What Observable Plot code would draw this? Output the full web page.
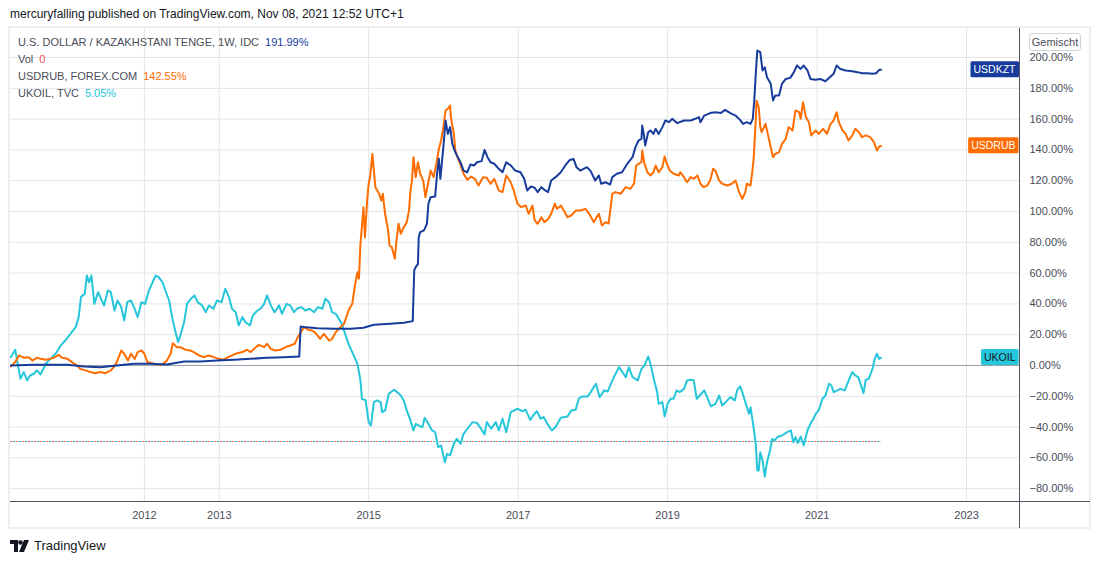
<!DOCTYPE html>
<html><head><meta charset="utf-8">
<script src="https://cdn.jsdelivr.net/npm/d3@7"></script>
<script src="https://cdn.jsdelivr.net/npm/@observablehq/plot@0.6"></script>
<style>
body{margin:0;background:#fff;font-family:"Liberation Sans",Arial,sans-serif;}
#wrap{position:relative;width:1100px;height:564px;overflow:hidden;background:#fff;}
#header{position:absolute;left:10px;top:7px;font-size:12px;color:#131722;white-space:nowrap;}
#chart{position:absolute;left:0;top:27px;}
#frame{position:absolute;left:8px;top:26px;width:1083px;height:503px;box-sizing:border-box;border:2px solid #eceef2;pointer-events:none;}
#vline{position:absolute;left:1019px;top:28px;width:1px;height:500px;background:#50535e;}
#hline{position:absolute;left:10px;top:501px;width:1080px;height:1px;background:#50535e;}
#legend{position:absolute;left:18px;top:34px;font-size:11px;line-height:17px;color:#4a4d57;white-space:nowrap;}
#legend span.v{margin-left:6px;}
#btn{position:absolute;left:1029px;top:33px;width:50px;height:16px;border:1px solid #d1d4dc;border-radius:3px;font-size:11px;line-height:16px;text-align:center;color:#4a4d57;background:#fff;}
#footer{position:absolute;left:10px;top:538px;font-size:13px;color:#131722;display:flex;align-items:center;}
#footer svg{margin-right:4px;}
</style></head>
<body>
<div id="wrap">
  <div id="header">mercuryfalling published on TradingView.com, Nov 08, 2021 12:52 UTC+1</div>
  <div id="chart"></div>
  <div id="frame"></div>
  <div id="vline"></div>
  <div id="hline"></div>
  <div id="legend"></div>
  <div id="btn">Gemischt</div>
  <div id="footer"><svg width="20" height="12" viewBox="0 0 20 12"><path d="M0 0h8v12h-4v-8h-4z" fill="#131722"/><circle cx="10.5" cy="2.5" r="2.3" fill="#131722"/><path d="M14 0h5l-5 12h-5z" fill="#131722"/></svg>TradingView</div>
</div>
<script>
// ---------- DATA (decimal years, percent change) ----------
const kztYears = [2010.21,2010.52,2010.97,2011.19,2011.41,2011.63,2011.86,2012.08,2012.30,2012.53,2012.75,2012.97,2013.20,2013.42,2013.64,2013.86,2014.07,2014.09,2014.13,2014.31,2014.53,2014.76,2014.93,2015.07,2015.29,2015.47,2015.59,2015.61,2015.63,2015.66,2015.67,2015.69,2015.74,2015.78,2015.80,2015.83,2015.89,2015.92,2015.94,2015.96,2016.00,2016.03,2016.06,2016.09,2016.12,2016.15,2016.18,2016.23,2016.27,2016.32,2016.36,2016.41,2016.45,2016.51,2016.55,2016.59,2016.63,2016.68,2016.74,2016.79,2016.84,2016.90,2016.96,2017.03,2017.08,2017.12,2017.17,2017.22,2017.26,2017.31,2017.35,2017.40,2017.44,2017.50,2017.57,2017.63,2017.69,2017.74,2017.78,2017.83,2017.92,2017.97,2018.03,2018.08,2018.11,2018.17,2018.23,2018.26,2018.32,2018.39,2018.46,2018.53,2018.57,2018.61,2018.65,2018.66,2018.68,2018.70,2018.74,2018.77,2018.81,2018.84,2018.88,2018.93,2018.97,2019.02,2019.06,2019.13,2019.22,2019.31,2019.37,2019.42,2019.44,2019.49,2019.57,2019.64,2019.71,2019.77,2019.84,2019.91,2019.97,2020.01,2020.06,2020.11,2020.14,2020.16,2020.18,2020.20,2020.24,2020.27,2020.30,2020.33,2020.38,2020.41,2020.44,2020.49,2020.53,2020.58,2020.64,2020.69,2020.73,2020.78,2020.82,2020.87,2020.91,2020.98,2021.04,2021.11,2021.17,2021.22,2021.26,2021.31,2021.38,2021.47,2021.54,2021.60,2021.67,2021.74,2021.79,2021.83,2021.855];
const kztValues = [0,0.4,0.4,-0.6,-1.1,0,1.1,1.1,0.6,2.6,2.6,3.2,3.7,4.3,5,5.4,5.8,25.3,25,24.2,23.8,23.8,24.5,26.4,27.1,27.7,28.8,61.7,63.9,66,83.3,86.6,87.7,92,105,109.3,109.7,126.6,134.2,121.2,141.8,159.1,150.4,154.8,144,139.6,136.4,132,126.6,125.5,130.5,129.9,132,132.7,140,135.3,132,131,127.7,125.5,132,129.9,126.6,125.5,121.2,113.6,116.2,115.4,112.6,115.8,114.1,112.6,120.1,122.3,125.5,129.9,133.5,134.2,128.8,126.6,128.8,126.2,120.1,123.4,118,119,117.5,122.3,124.5,125.5,131,135.3,141.8,146.1,147.2,155.8,150.4,142.9,151.5,152.6,150.4,153.7,150.4,154.8,159.1,158,160.2,157.4,159.1,159.1,160.2,161.3,158,162.3,163.9,164.5,163.9,166,163.9,162.3,159.5,156.9,158,156.9,160.2,172.1,189.4,204.5,203.5,191.6,193.7,187.2,182.9,172.1,175.3,175.3,182.9,186.1,186.8,190.5,194.8,192.6,194.8,191.6,186.1,185.5,186.1,184.6,187.2,189.4,194.8,192.6,191.6,191.1,190.5,189.8,189.8,189.4,189.8,192,191.99];

const rubYears = [2010.21,2010.27,2010.32,2010.39,2010.45,2010.50,2010.56,2010.61,2010.68,2010.74,2010.79,2010.85,2010.90,2010.97,2011.03,2011.10,2011.14,2011.21,2011.28,2011.34,2011.41,2011.48,2011.55,2011.59,2011.63,2011.69,2011.73,2011.78,2011.82,2011.87,2011.91,2011.96,2012.00,2012.04,2012.10,2012.17,2012.24,2012.30,2012.35,2012.38,2012.43,2012.48,2012.55,2012.61,2012.66,2012.73,2012.79,2012.86,2012.93,2012.99,2013.05,2013.12,2013.17,2013.24,2013.31,2013.37,2013.42,2013.49,2013.53,2013.60,2013.64,2013.69,2013.75,2013.82,2013.89,2013.95,2014.01,2014.04,2014.09,2014.14,2014.19,2014.24,2014.29,2014.35,2014.40,2014.47,2014.51,2014.56,2014.60,2014.67,2014.73,2014.78,2014.82,2014.85,2014.87,2014.89,2014.92,2014.93,2014.95,2014.98,2015.00,2015.02,2015.05,2015.07,2015.09,2015.14,2015.17,2015.19,2015.22,2015.26,2015.28,2015.31,2015.35,2015.37,2015.40,2015.43,2015.47,2015.51,2015.54,2015.56,2015.58,2015.60,2015.63,2015.66,2015.69,2015.73,2015.76,2015.79,2015.83,2015.87,2015.91,2015.94,2015.97,2016.00,2016.03,2016.06,2016.09,2016.10,2016.14,2016.16,2016.19,2016.24,2016.27,2016.32,2016.37,2016.42,2016.47,2016.53,2016.58,2016.63,2016.68,2016.74,2016.79,2016.84,2016.90,2016.94,2016.99,2017.04,2017.10,2017.14,2017.19,2017.22,2017.26,2017.31,2017.35,2017.40,2017.44,2017.49,2017.52,2017.57,2017.61,2017.66,2017.71,2017.77,2017.83,2017.90,2017.95,2018.01,2018.08,2018.12,2018.17,2018.21,2018.26,2018.30,2018.37,2018.44,2018.50,2018.55,2018.58,2018.61,2018.65,2018.66,2018.69,2018.73,2018.77,2018.81,2018.84,2018.88,2018.93,2018.96,2018.99,2019.03,2019.08,2019.15,2019.17,2019.22,2019.26,2019.31,2019.35,2019.40,2019.44,2019.48,2019.53,2019.57,2019.61,2019.64,2019.69,2019.73,2019.80,2019.86,2019.91,2019.95,2020.00,2020.04,2020.06,2020.11,2020.13,2020.15,2020.18,2020.19,2020.22,2020.24,2020.26,2020.31,2020.35,2020.39,2020.41,2020.44,2020.49,2020.53,2020.58,2020.62,2020.67,2020.71,2020.76,2020.78,2020.81,2020.85,2020.89,2020.92,2020.98,2021.02,2021.08,2021.13,2021.18,2021.22,2021.26,2021.29,2021.34,2021.38,2021.42,2021.47,2021.51,2021.56,2021.60,2021.65,2021.71,2021.76,2021.80,2021.83,2021.855];
const rubValues = [-0.6,2.2,6.5,5,5.4,3.2,5,4.3,3.7,4.3,5,6.9,5,4.3,2.2,0,-2.2,-3.2,-4.3,-5,-4.3,-5,-3.2,-1.1,2.2,9.7,7.6,3.2,7.6,4.3,8.7,9.7,7.6,2.2,1.5,0.6,0.6,3.2,7.6,14.5,11.9,11.9,10.2,9.7,8.7,6.5,5.4,6.5,5.4,4.3,3.7,5.4,6.5,8,8.7,10.2,8.7,11.9,13.4,11.9,14.1,10.8,9.7,10.2,11.9,13,14.1,17.3,21.6,24.9,23.2,22.7,21,17.3,20.6,16.2,17.3,21.6,23.8,27,35.7,40,53,60.6,56.3,79,96.3,102.8,83.3,107.1,118,122.7,137.4,126.6,115.8,111.5,107.1,111.5,98.5,87.7,77.9,76.8,69.3,80.1,92,85.5,89.8,93.1,100.6,113.6,120.1,135.3,122.3,132,124.5,120.1,109.3,116.9,126.6,122.3,132,140.7,146.1,154.8,165.6,166.7,168.8,161.3,150.4,139.6,135.3,128.8,124.5,120.6,122.7,121.2,116.9,122.3,121.9,118,121.2,113.6,112.6,123.4,119,113.6,105,102.8,103.9,98.5,103.9,94.2,92,96.3,93.1,95.2,98.5,105,101.7,103.9,100.6,96.3,97.4,100.6,100.6,101.7,98.5,93.1,98.5,90.9,93.1,92.2,111.5,112.6,111.5,115.8,114.7,118,129.9,131,132,139.6,131,125.5,123.4,125.5,129.9,125.5,128.8,135.7,131,126.6,124.5,123.4,125.5,122.3,119,122.3,121.2,123.4,118,115.8,116.9,120.1,127.7,126.6,120.1,118,116.9,118,120.1,113.6,108.2,112.6,118,116.9,124.5,133.1,159.1,172,167.7,154.8,151.5,156.9,148.3,139.6,135.3,137.4,138.5,143.9,147.2,154.8,152.6,165.6,164.5,160.2,171,161.3,158,149.4,152.6,150.4,153.7,150.4,156.9,159.1,164.5,158,152.6,150.4,146.1,149.4,153.7,151.5,148.3,149.4,148.3,145,139.6,142.2,142.55];

const oilYears = [2010.21,2010.27,2010.34,2010.385,2010.43,2010.47,2010.52,2010.56,2010.61,2010.68,2010.74,2010.81,2010.88,2010.94,2011.01,2011.08,2011.12,2011.15,2011.20,2011.23,2011.26,2011.29,2011.33,2011.38,2011.42,2011.46,2011.51,2011.55,2011.60,2011.64,2011.69,2011.73,2011.77,2011.82,2011.87,2011.91,2011.96,2012.01,2012.06,2012.10,2012.15,2012.19,2012.24,2012.28,2012.33,2012.37,2012.41,2012.45,2012.48,2012.53,2012.57,2012.62,2012.67,2012.71,2012.77,2012.82,2012.86,2012.92,2012.97,2013.03,2013.08,2013.13,2013.17,2013.22,2013.26,2013.31,2013.35,2013.41,2013.45,2013.51,2013.55,2013.60,2013.64,2013.69,2013.74,2013.80,2013.84,2013.90,2013.95,2014.00,2014.04,2014.10,2014.15,2014.21,2014.27,2014.32,2014.38,2014.42,2014.47,2014.51,2014.56,2014.60,2014.64,2014.67,2014.73,2014.78,2014.85,2014.89,2014.91,2014.96,2015.00,2015.03,2015.07,2015.11,2015.16,2015.18,2015.22,2015.27,2015.34,2015.38,2015.43,2015.47,2015.51,2015.56,2015.60,2015.63,2015.67,2015.72,2015.75,2015.80,2015.85,2015.89,2015.93,2015.97,2016.02,2016.05,2016.09,2016.14,2016.18,2016.23,2016.27,2016.32,2016.39,2016.45,2016.49,2016.55,2016.58,2016.64,2016.70,2016.74,2016.79,2016.84,2016.90,2016.99,2017.05,2017.10,2017.16,2017.20,2017.25,2017.30,2017.34,2017.39,2017.45,2017.50,2017.57,2017.66,2017.71,2017.77,2017.81,2017.86,2017.93,2017.97,2018.04,2018.09,2018.15,2018.20,2018.24,2018.28,2018.35,2018.44,2018.48,2018.53,2018.60,2018.65,2018.69,2018.74,2018.77,2018.82,2018.86,2018.88,2018.93,2018.96,2019.00,2019.04,2019.08,2019.12,2019.16,2019.22,2019.26,2019.32,2019.35,2019.39,2019.43,2019.49,2019.52,2019.58,2019.64,2019.69,2019.73,2019.79,2019.84,2019.90,2019.93,2019.97,2020.00,2020.04,2020.09,2020.11,2020.15,2020.18,2020.20,2020.22,2020.24,2020.27,2020.30,2020.33,2020.37,2020.40,2020.43,2020.47,2020.53,2020.60,2020.65,2020.68,2020.71,2020.74,2020.78,2020.82,2020.87,2020.91,2020.95,2020.98,2021.02,2021.07,2021.11,2021.16,2021.19,2021.22,2021.27,2021.31,2021.37,2021.43,2021.47,2021.51,2021.55,2021.58,2021.62,2021.65,2021.69,2021.74,2021.77,2021.80,2021.83,2021.855];
const oilValues = [5.4,10.2,-8.7,-4.3,-9.7,-6.5,-5.4,-3.2,-5.8,1.1,4.3,7.6,13,16.2,20.6,24.9,31.4,44.4,46.5,58.4,54,58.4,40,47.6,43.3,39,48.7,47.6,35.7,42.2,37.9,29.2,41.1,42.2,36.8,31.4,41.1,40,48.7,53,58.4,57.4,54.1,48.7,42.2,31.4,22.7,15.2,19.5,28.1,40,43.3,45.5,41.1,39,34.6,39,36.8,42.2,41.1,49.8,44.4,36.8,34.6,26,31.4,28.1,26,32.5,35.7,36.8,40,45.5,39,34.6,39,33.5,40,39,34.6,36.8,37.9,35.7,36.8,34.6,37.9,36.8,43.3,41.1,34.6,33.5,30.3,27.1,22.7,14,8.7,1,-9.7,-21.6,-22.7,-36.8,-39,-23.8,-22.7,-23.8,-30.3,-29.2,-18.4,-15.8,-17.3,-19.5,-22.7,-29.2,-35.7,-42.2,-37.9,-39,-40,-34,-37.9,-42.2,-43.3,-53,-52,-62.8,-57.4,-58.4,-50.9,-47.6,-50.9,-44.4,-41.1,-36.8,-37.4,-40,-44.8,-36.8,-41.1,-36.8,-42.2,-34.6,-43.3,-30.3,-28.1,-29.7,-28.8,-35.3,-32.5,-29.7,-34.6,-33.5,-37.9,-42.2,-40,-34,-33.1,-29.2,-28.8,-21.6,-20.1,-20.1,-17.3,-11.9,-20.6,-16.2,-16.9,-11.9,-7.6,-1.1,-7.6,-1.1,-7.6,-9.7,-2.2,0,5.8,1.1,-9.7,-17.3,-24.9,-23.8,-33.1,-24.9,-21.6,-21.6,-16.2,-17.3,-15.2,-9.7,-9.3,-9.7,-21.6,-19.5,-16.2,-19.5,-26.6,-24.9,-19.5,-26,-23.2,-20.6,-22.7,-16.2,-13.6,-17.3,-23.8,-31.4,-27.1,-40,-50.9,-68.2,-68.2,-56.3,-61.7,-72.1,-62.8,-55.2,-47.6,-48.7,-46.5,-45.5,-43.3,-42.2,-49.8,-46.5,-50.4,-46.1,-51.9,-42.2,-37.9,-34.6,-31.4,-29.2,-21.6,-19.5,-11.9,-13,-17.3,-16.2,-15.2,-16.2,-8.7,-4.3,-6.5,-7.6,-11.9,-18,-9.3,-8.7,-2.2,4.3,7.6,4.3,5.05];

const volLevel = -49.4;           // Vol indicator line
const xTickYears = [2012, 2013, 2015, 2017, 2019, 2021, 2023];
const yTicks = [-80,-60,-40,-20,0,20,40,60,80,100,120,140,160,180,200];
const xDomainYears = [2010.207, 2023.709];
const yDomain = [-89.0, 219.5];

const seriesNames = ["USDKZT", "USDRUB", "UKOIL"];
const seriesColors = ["#173c9c", "#ff6d00", "#26c6da"];
const tagTextColors = ["#ffffff", "#ffffff", "#131722"];
const legendLabels = ["U.S. DOLLAR / KAZAKHSTANI TENGE, 1W, IDC", "USDRUB, FOREX.COM", "UKOIL, TVC"];
const legendValues = ["191.99%", "142.55%", "5.05%"];

// ---------- helpers ----------
const toDate = y => { const yr = Math.floor(y); const s = Date.UTC(yr,0,1), e = Date.UTC(yr+1,0,1); return new Date(s + (y - yr) * (e - s)); };
const mk = (years, values) => years.map((y, i) => ({date: toDate(y), value: values[i]}));
const kzt = mk(kztYears, kztValues);
const rub = mk(rubYears, rubValues);
const oil = mk(oilYears, oilValues);
const lastValues = [kztValues[kztValues.length-1], rubValues[rubValues.length-1], oilValues[oilValues.length-1]];
const tags = seriesNames.map((n, i) => ({name: n, value: lastValues[i], color: seriesColors[i], text: tagTextColors[i]}));
const fmtPct = d => (d < 0 ? "\u2212" : "") + Math.abs(d).toFixed(2) + "%";
const xTicks = xTickYears.map(y => new Date(Date.UTC(y, 0, 1)));
const firstDate = kzt[0].date, lastDate = kzt[kzt.length-1].date;

// ---------- legend (HTML) ----------
const leg = document.getElementById("legend");
const rows = [
  [legendLabels[0], legendValues[0], seriesColors[0]],
  ["Vol", "0", "#ef5350"],
  [legendLabels[1], legendValues[1], seriesColors[1]],
  [legendLabels[2], legendValues[2], seriesColors[2]]
];
rows.forEach(([l, v, c]) => {
  const d = document.createElement("div");
  d.innerHTML = `<span>${l}</span><span class="v" style="color:${c}">${v}</span>`;
  leg.appendChild(d);
});

// ---------- plot ----------
const chart = Plot.plot({
  width: 1100, height: 501,
  marginLeft: 10, marginRight: 81, marginTop: 0, marginBottom: 26,
  style: {fontFamily: "Liberation Sans, Arial, sans-serif", fontSize: "11px", color: "#4a4d57", background: "transparent", overflow: "visible"},
  x: {type: "utc", domain: xDomainYears.map(toDate)},
  y: {domain: yDomain},
  marks: [
    Plot.gridX(xTicks, {stroke: "#e3e5ea", strokeOpacity: 1}),
    Plot.gridY(yTicks, {stroke: "#e3e5ea", strokeOpacity: 1}),
    Plot.ruleY([0], {stroke: "#9b9ea6", strokeWidth: 1}),
    Plot.ruleY([volLevel], {x1: firstDate, x2: lastDate, stroke: "#ef5350", strokeDasharray: "2,4", strokeWidth: 1}),
    Plot.ruleY([volLevel], {x1: firstDate, x2: lastDate, stroke: "#26a69a", strokeDasharray: "2,4", strokeDashoffset: 3, strokeWidth: 1}),
    Plot.axisX(xTicks, {tickFormat: d3.utcFormat("%Y"), tickSize: 0, tickPadding: 9, label: null, fill: "#4a4d57"}),
    Plot.axisY(yTicks, {anchor: "right", tickFormat: fmtPct, tickSize: 0, tickPadding: 10, label: null, fill: "#4a4d57"}),
    Plot.line(oil, {x: "date", y: "value", stroke: seriesColors[2], strokeWidth: 2}),
    Plot.line(rub, {x: "date", y: "value", stroke: seriesColors[1], strokeWidth: 2}),
    Plot.line(kzt, {x: "date", y: "value", stroke: seriesColors[0], strokeWidth: 2}),
    ...tags.map(t => Plot.text([t], {y: "value", text: "name", frameAnchor: "right", textAnchor: "end", dx: -4, fill: t.text, fontSize: 10.5}))
  ]
});
document.getElementById("chart").appendChild(chart);

// background boxes for the price tags (found by their text)
chart.querySelectorAll("text").forEach(txt => {
  const i = seriesNames.indexOf(txt.textContent.trim());
  if (i < 0) return;
  const b = txt.getBBox();
  const r = document.createElementNS("http://www.w3.org/2000/svg", "rect");
  r.setAttribute("x", b.x - 3);
  r.setAttribute("y", b.y + b.height / 2 - 8);
  r.setAttribute("width", b.width + 6);
  r.setAttribute("height", 16);
  r.setAttribute("rx", 1.5);
  r.setAttribute("fill", tags[i].color);
  const tr = txt.getAttribute("transform");
  if (tr) r.setAttribute("transform", tr);
  txt.parentNode.insertBefore(r, txt);
});
</script>
</body></html>
